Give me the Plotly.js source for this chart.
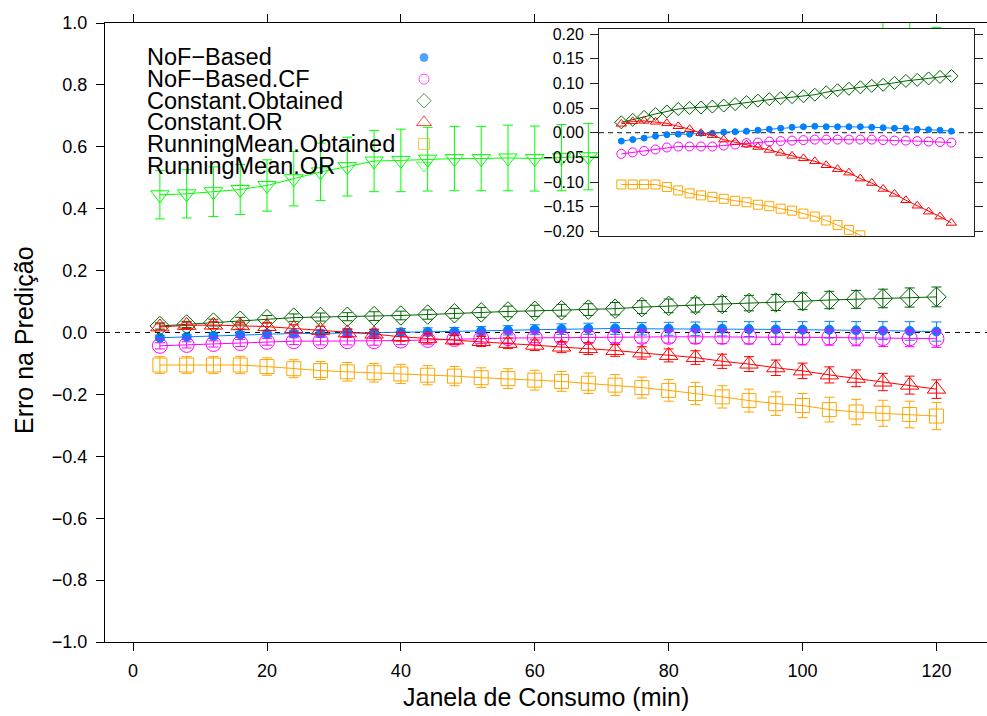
<!DOCTYPE html>
<html>
<head>
<meta charset="utf-8">
<script src="https://cdn.plot.ly/plotly-3.0.1.min.js"></script>
<style>
html,body{margin:0;padding:0;overflow:hidden;background:#fff;}
#chart{width:996px;height:716px;}
</style>
</head>
<body>
<div id="chart"></div>
<script>
// ---- data ----
const janela = [4,8,12,16,20,24,28,32,36,40,44,48,52,56,60,64,68,72,76,80,84,88,92,96,100,104,108,112,116,120];

const seriesNames = ["NoF\u2212Based","NoF\u2212Based.CF","Constant.Obtained","Constant.OR","RunningMean.Obtained","RunningMean.OR"];

const nofBased = [-0.017,-0.014,-0.011,-0.007,-0.004,-0.003,-0.003,-0.001,-0.001,0.001,0.002,0.003,0.005,0.007,0.009,0.011,0.012,0.013,0.012,0.012,0.012,0.012,0.011,0.010,0.009,0.009,0.007,0.006,0.005,0.003];
const nofBasedErr = [0.008,0.008,0.009,0.009,0.010,0.010,0.011,0.011,0.012,0.012,0.013,0.013,0.014,0.015,0.016,0.017,0.018,0.019,0.020,0.021,0.022,0.023,0.024,0.025,0.026,0.027,0.028,0.029,0.030,0.031];

const nofBasedCF = [-0.043,-0.040,-0.037,-0.034,-0.030,-0.028,-0.028,-0.028,-0.028,-0.026,-0.024,-0.021,-0.020,-0.018,-0.017,-0.016,-0.015,-0.014,-0.014,-0.014,-0.014,-0.014,-0.014,-0.015,-0.016,-0.016,-0.017,-0.018,-0.019,-0.020];
const nofBasedCFErr = [0.010,0.010,0.010,0.011,0.011,0.011,0.012,0.012,0.013,0.013,0.014,0.014,0.015,0.016,0.016,0.017,0.018,0.019,0.020,0.020,0.021,0.022,0.023,0.024,0.024,0.025,0.026,0.027,0.027,0.028];

const constObtained = [0.021,0.026,0.032,0.038,0.043,0.048,0.050,0.051,0.053,0.055,0.058,0.062,0.065,0.068,0.070,0.072,0.074,0.077,0.082,0.086,0.089,0.092,0.095,0.097,0.101,0.105,0.107,0.110,0.113,0.115];
const constObtainedErr = [0.010,0.010,0.011,0.011,0.012,0.012,0.013,0.013,0.014,0.014,0.015,0.016,0.016,0.017,0.018,0.019,0.019,0.020,0.021,0.022,0.023,0.024,0.025,0.026,0.027,0.028,0.029,0.030,0.031,0.032];

const constOR = [0.018,0.023,0.024,0.022,0.019,0.013,0.007,-0.001,-0.005,-0.014,-0.019,-0.024,-0.029,-0.035,-0.041,-0.047,-0.052,-0.058,-0.066,-0.074,-0.081,-0.093,-0.102,-0.114,-0.124,-0.137,-0.148,-0.160,-0.170,-0.183];
const constORErr = [0.010,0.010,0.011,0.011,0.012,0.012,0.013,0.013,0.014,0.014,0.015,0.015,0.016,0.017,0.017,0.018,0.019,0.019,0.020,0.021,0.022,0.023,0.024,0.025,0.025,0.026,0.027,0.028,0.029,0.030];

const rmObtained = [-0.105,-0.105,-0.105,-0.105,-0.110,-0.117,-0.123,-0.127,-0.130,-0.134,-0.138,-0.141,-0.146,-0.149,-0.154,-0.158,-0.164,-0.170,-0.178,-0.187,-0.197,-0.208,-0.220,-0.230,-0.236,-0.249,-0.257,-0.261,-0.265,-0.270];
const rmObtainedErr = [0.027,0.027,0.027,0.028,0.028,0.029,0.029,0.030,0.030,0.031,0.031,0.031,0.032,0.032,0.032,0.032,0.033,0.034,0.034,0.035,0.036,0.036,0.037,0.038,0.039,0.040,0.041,0.042,0.043,0.044];

const rmOR = [0.445,0.448,0.455,0.462,0.475,0.497,0.519,0.536,0.554,0.556,0.560,0.562,0.562,0.564,0.562,0.565,0.568,0.570,0.575,0.585,0.600,0.620,0.640,0.665,0.690,0.720,0.750,0.800,0.820,0.800];
const rmORErr = [0.078,0.078,0.080,0.081,0.083,0.088,0.093,0.095,0.099,0.101,0.103,0.104,0.104,0.106,0.105,0.107,0.107,0.108,0.110,0.115,0.120,0.125,0.130,0.140,0.150,0.160,0.170,0.210,0.200,0.185];

const mainTicksY = [-1.0,-0.8,-0.6,-0.4,-0.2,0.0,0.2,0.4,0.6,0.8,1.0];
const insetTicksY = [-0.20,-0.15,-0.10,-0.05,0.00,0.05,0.10,0.15,0.20];
const ticksX = [0,20,40,60,80,100,120];

// ---- styles ----
const FONT = "Liberation Sans, Arial, Helvetica, sans-serif";
const styles = [
  {y: nofBased,     e: nofBasedErr,     color:'#0080ff', sym:'circle',             main:9,  inset:6,  leg:8},
  {y: nofBasedCF,   e: nofBasedCFErr,   color:'#ff00ff', sym:'circle-open',        main:15, inset:9,  leg:10},
  {y: constObtained,e: constObtainedErr,color:'#006400', sym:'diamond-open',       main:15, inset:10, leg:11},
  {y: constOR,      e: constORErr,      color:'#ff0000', sym:'triangle-up-open',   main:16, inset:9,  leg:13},
  {y: rmObtained,   e: rmObtainedErr,   color:'#ffa500', sym:'square-open',        main:14, inset:9,  leg:11},
  {y: rmOR,         e: rmORErr,         color:'#00ff00', sym:'triangle-down-open', main:16, inset:9,  leg:13}
];

const traces = [];
styles.forEach((s,i)=>{
  traces.push({
    type:'scatter', mode:'lines+markers', x:janela, y:s.y, name:seriesNames[i],
    xaxis:'x', yaxis:'y', showlegend:false, hoverinfo:'skip',
    line:{color:s.color, width:1},
    marker:{symbol:s.sym, size:s.main, color:s.color, line:{color:s.color, width:1}},
    error_y:{type:'data', array:s.e, visible:true, color:s.color, thickness:1, width:5}
  });
});
// inset (all but RunningMean.OR)
styles.slice(0,5).forEach((s,i)=>{
  traces.push({
    type:'scatter', mode:'lines+markers', x:janela, y:s.y, name:seriesNames[i]+' (inset)',
    xaxis:'x2', yaxis:'y2', showlegend:false, hoverinfo:'skip',
    line:{color:s.color, width:1},
    marker:{symbol:s.sym, size:s.inset, color:s.color, line:{color:s.color, width:1}}
  });
});
// legend keys (on a pixel-space overlay axis)
const legTop = 57.5, legStep = 21.6, legKeyX = 424, legTextX = 145;
traces.push({
  type:'scatter', mode:'markers', xaxis:'x3', yaxis:'y3', showlegend:false, hoverinfo:'skip',
  x: styles.map(()=>legKeyX),
  y: styles.map((s,i)=>legTop+i*legStep),
  marker:{symbol:styles.map(s=>s.sym), size:styles.map(s=>s.leg), color:styles.map(s=>s.color),
          line:{color:styles.map(s=>s.color), width:1}}
});

const plotL=105, plotR=990, plotT=23, plotB=642;
const W=996, H=716;
const px2paperX = p => (p-plotL)/(plotR-plotL);
const px2paperY = p => (plotB-p)/(plotB-plotT);

const annotations = seriesNames.map((n,i)=>({
  text:n, xref:'paper', yref:'paper', x:px2paperX(legTextX), y:px2paperY(legTop+i*legStep),
  xanchor:'left', yanchor:'middle', showarrow:false, font:{family:FONT, size:23.5, color:'#000'}
}));
annotations.push({text:'Janela de Consumo (min)', xref:'paper', yref:'paper', x:px2paperX(546), y:px2paperY(697),
  xanchor:'center', yanchor:'middle', showarrow:false, font:{family:FONT, size:25, color:'#000'}});
annotations.push({text:'Erro na Predição', xref:'paper', yref:'paper', x:px2paperX(24), y:px2paperY(340), textangle:-90,
  xanchor:'center', yanchor:'middle', showarrow:false, font:{family:FONT, size:25, color:'#000'}});

const layout = {
  width:W, height:H,
  margin:{l:plotL, r:W-plotR, t:plotT, b:H-plotB, pad:0},
  paper_bgcolor:'#fff', plot_bgcolor:'#fff',
  showlegend:false,
  font:{family:FONT, color:'#000'},
  xaxis:{domain:[0,1], range:[-4.2,128.0], tickvals:ticksX, ticks:'outside', ticklen:8, tickcolor:'#000',
         showline:true, linecolor:'#000', linewidth:1, mirror:'ticks', zeroline:false, showgrid:false,
         tickfont:{family:FONT, size:18}, anchor:'y', ticklabelstandoff:4},
  yaxis:{domain:[0,1], range:[-1,1], tickvals:mainTicksY, tickformat:'.1f', ticks:'outside', ticklen:8, tickcolor:'#000',
         showline:true, linecolor:'#000', linewidth:1, mirror:'ticks', zeroline:false, showgrid:false,
         tickfont:{family:FONT, size:18}, anchor:'x', ticklabelstandoff:5},
  xaxis2:{domain:[px2paperX(599), px2paperX(974)], range:[-3.85,127.95], anchor:'y2', showticklabels:false, ticks:'',
          showline:true, linecolor:'#222', linewidth:1, mirror:true, zeroline:false, showgrid:false},
  yaxis2:{domain:[px2paperY(236), px2paperY(29)], range:[-0.2094,0.2102], anchor:'x2', tickvals:insetTicksY, tickformat:'.2f',
          ticks:'outside', ticklen:8, tickcolor:'#222', showline:true, linecolor:'#222', linewidth:1, mirror:'ticks',
          zeroline:false, showgrid:false, tickfont:{family:FONT, size:16}, ticklabelstandoff:3},
  xaxis3:{overlaying:'x', range:[plotL, plotR], visible:false, fixedrange:true},
  yaxis3:{overlaying:'y', range:[plotB, plotT], visible:false, fixedrange:true},
  shapes:[
    {type:'line', xref:'x', yref:'y', x0:-4.2, x1:128, y0:0, y1:0, layer:'below', line:{color:'#000', width:1, dash:'5px,5px'}},
    {type:'line', xref:'x2', yref:'y2', x0:-3.85, x1:127.95, y0:0, y1:0, layer:'below', line:{color:'#444', width:1.2, dash:'5px,4px'}}
  ],
  annotations: annotations
};

Plotly.newPlot('chart', traces, layout, {staticPlot:true, displayModeBar:false});
</script>
</body>
</html>
